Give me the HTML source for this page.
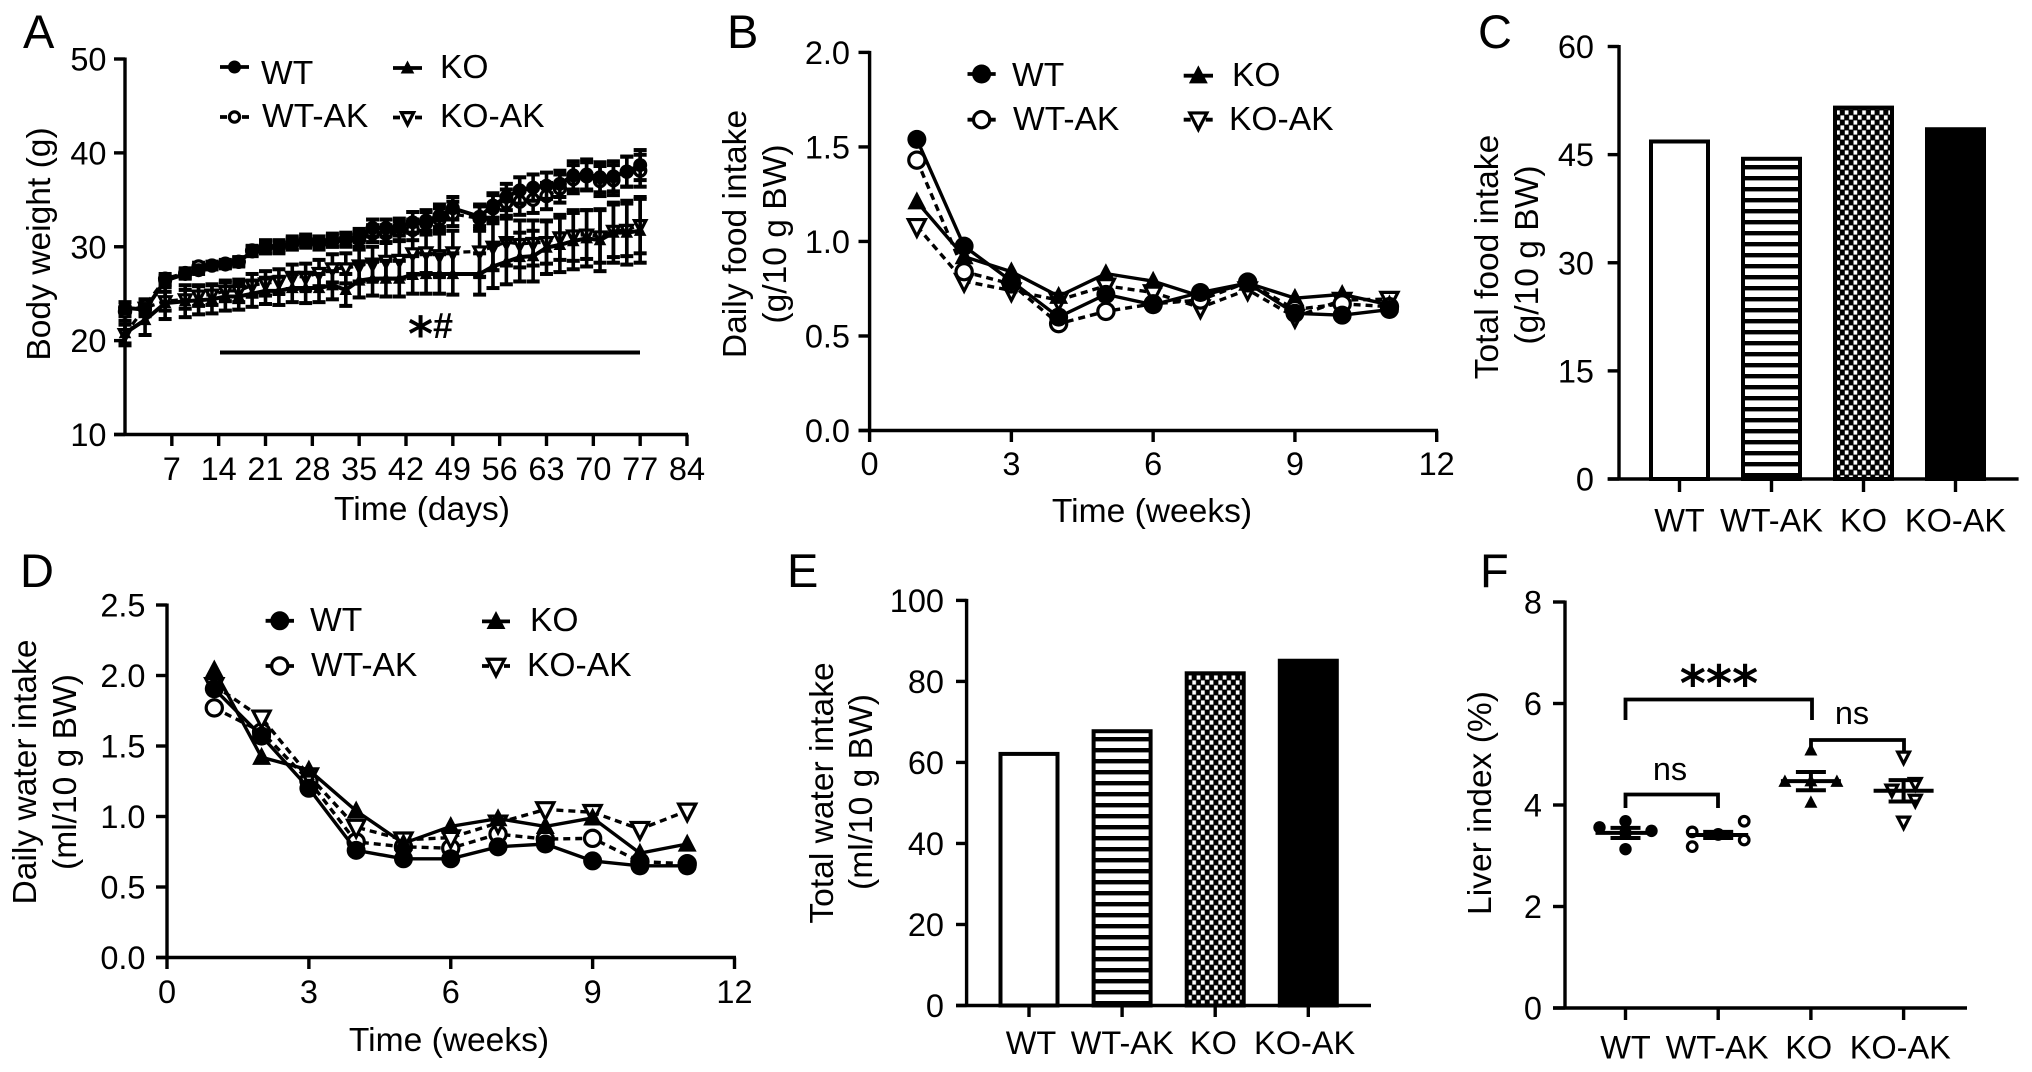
<!DOCTYPE html>
<html lang="en">
<head>
<meta charset="utf-8">
<title>Body weight, food and water intake, and liver index panels</title>
<style>
html,body{margin:0;padding:0;background:#fff;}
svg{display:block;}
text{font-family:"Liberation Sans",Arial,sans-serif;fill:#000;}
.t{font-size:32.5px;}
.h{font-size:33.6px;}
.panel{font-size:47px;}
.star{font-family:"DejaVu Sans",sans-serif;font-weight:bold;}
</style>
</head>
<body>
<svg id="fig" xmlns="http://www.w3.org/2000/svg" width="2032" height="1072" viewBox="0 0 2032 1072">
  <defs>
    <pattern id="stripes" patternUnits="userSpaceOnUse" width="11" height="11">
      <rect width="11" height="11" fill="#fff"/>
      <rect width="11" height="4.4" fill="#000"/>
    </pattern>
    <pattern id="checker" patternUnits="userSpaceOnUse" width="8.7" height="10">
      <rect width="8.7" height="10" fill="#000"/>
      <rect x="0.4" y="0.4" width="3.7" height="4.2" fill="#fff"/>
      <rect x="4.75" y="5.4" width="3.7" height="4.2" fill="#fff"/>
    </pattern>
  </defs>
  <rect width="2032" height="1072" fill="#fff"/>

  <text class="panel" x="23" y="48">A</text>
  <text class="panel" x="727" y="48">B</text>
  <text class="panel" x="1478" y="48">C</text>
  <text class="panel" x="20" y="587">D</text>
  <text class="panel" x="787" y="587">E</text>
  <text class="panel" x="1480" y="587">F</text>

  <text class="h" transform="translate(50 244) rotate(-90)" text-anchor="middle">Body weight (g)</text>
  <text class="h" x="422" y="520" text-anchor="middle">Time (days)</text>
  <text class="h" x="261" y="84">WT</text>
  <text class="h" x="262" y="127">WT-AK</text>
  <text class="h" x="440" y="78">KO</text>
  <text class="h" x="440" y="127">KO-AK</text>
  <rect x="220" y="350.5" width="420" height="4" fill="#000"/>
  <text class="star" x="408" y="351" font-size="48">*</text>
  <text x="433" y="338" font-size="36" font-weight="bold">#</text>

  <text class="h" transform="translate(746 234) rotate(-90)" text-anchor="middle">Daily food intake</text>
  <text class="h" transform="translate(786 234) rotate(-90)" text-anchor="middle">(g/10 g BW)</text>
  <text class="h" x="1152" y="522" text-anchor="middle">Time (weeks)</text>
  <text class="h" x="1012" y="86">WT</text>
  <text class="h" x="1013" y="130">WT-AK</text>
  <text class="h" x="1232" y="86">KO</text>
  <text class="h" x="1229" y="130">KO-AK</text>

  <text class="h" transform="translate(1498 257) rotate(-90)" text-anchor="middle">Total food intake</text>
  <text class="h" transform="translate(1538 255) rotate(-90)" text-anchor="middle">(g/10 g BW)</text>

  <text class="h" transform="translate(36 772) rotate(-90)" text-anchor="middle">Daily water intake</text>
  <text class="h" transform="translate(76 772) rotate(-90)" text-anchor="middle">(ml/10 g BW)</text>
  <text class="h" x="449" y="1051" text-anchor="middle">Time (weeks)</text>
  <text class="h" x="310" y="631">WT</text>
  <text class="h" x="311" y="676">WT-AK</text>
  <text class="h" x="530" y="631">KO</text>
  <text class="h" x="527" y="676">KO-AK</text>

  <text class="h" transform="translate(833 793) rotate(-90)" text-anchor="middle">Total water intake</text>
  <text class="h" transform="translate(872 792) rotate(-90)" text-anchor="middle">(ml/10 g BW)</text>

  <text class="h" transform="translate(1491 803) rotate(-90)" text-anchor="middle">Liver index (%)</text>
  <path d="M1625.5 720V699.5H1812V720" fill="none" stroke="#000" stroke-width="3.8"/>
  <path d="M1625.5 808V794.5H1718V808" fill="none" stroke="#000" stroke-width="3.8"/>
  <path d="M1811 750V740H1904V754" fill="none" stroke="#000" stroke-width="3.8"/>
  <text class="star" x="1719" y="701" font-size="50" text-anchor="middle">***</text>
  <text class="t" x="1852" y="724" text-anchor="middle">ns</text>
  <text class="t" x="1670" y="780" text-anchor="middle">ns</text>
</svg>

<script>
/* ---------- Panel A data: body weight ---------- */
const aDays = [0,3,6,9,11,13,15,17,19,21,23,25,27,29,31,33,35,37,39,41,43,45,47,49,53,55,57,59,61,63,65,67,69,71,73,75,77];
const aWT = [23.5,23.3,26.4,27.1,27.5,28,28.1,28.4,29.5,30,30,30.4,30.5,30.5,30.7,30.7,31.2,32,32,32.1,32.6,32.8,33.3,34.1,33.2,34.4,35.3,36,36.3,36.5,36.7,37.6,37.7,37.4,37.5,38,38.7];
const aWTErr = [0.6,0.6,0.5,0.5,0.4,0.4,0.4,0.5,0.5,0.7,0.7,0.7,0.6,0.6,0.7,0.7,0.7,0.9,0.9,0.9,1.1,1.1,1.2,1.2,1.3,1.3,1.4,1.4,1.4,1.4,1.4,1.5,1.6,1.6,1.6,1.6,1.6];
const aWTAK = [23.1,23.7,26.6,27.2,27.9,28,28.2,28.4,29.6,29.9,30,30.3,30.7,30.3,30.6,30.8,30.8,31.4,31.4,31.7,31.8,32.5,32.9,33.5,33,34.1,34.7,34.8,35,35.4,36.2,37.2,37.5,37,37.1,38,38.1];
const aWTAKErr = [0.5,0.6,0.5,0.5,0.4,0.4,0.4,0.4,0.5,0.6,0.6,0.6,0.6,0.6,0.6,0.7,0.8,0.9,0.9,1,1.1,1.2,1.2,1.3,1.3,1.4,1.4,1.4,1.4,1.4,1.5,1.5,1.5,1.6,1.6,1.6,1.7];
const aKO = [20.8,22.2,24,24.2,24.3,24.4,24.7,24.7,25,25.3,25.3,25.6,25.6,25.6,25.9,25.4,26.4,26.6,26.6,26.6,27,27.1,27.1,27.1,27.1,27.9,28.4,28.9,29,29.9,30.2,30.6,30.9,30.7,31.5,31.5,31.7];
const aKOErr = [1.3,1.6,1.7,1.7,1.5,1.5,1.5,1.4,1.4,1.4,1.5,1.5,1.6,1.5,1.5,1.7,1.8,1.8,1.9,1.9,2,2.1,2.1,2.2,2.2,2.3,2.4,2.6,2.7,2.8,2.9,3,3,3.3,3.2,3.4,3.4];
const aKOAK = [20.7,23.5,24.2,24.4,24.8,24.9,25.3,25.3,25.9,26.1,26.3,26.8,26.8,27.2,27.7,27.7,28,28.2,28.5,28.6,29.3,29.4,29.1,29.4,29.5,30,30.5,30.3,30.4,30.5,31,31.2,31.3,31.1,31.7,31.8,32.3];
const aKOAKErr = [1,0.9,1,1,1.1,1.1,1.1,1.2,1.2,1.3,1.3,1.3,1.4,1.4,1.5,1.6,1.7,1.8,1.9,2,2.2,2.2,2.3,2.3,2.7,2.5,2.5,2.5,2.4,2.3,2.4,2.7,2.6,2.8,2.8,2.8,3];
const aXTicks = [7,14,21,28,35,42,49,56,63,70,77,84];
const aYTicks = [10,20,30,40,50];

/* ---------- Panel B data: daily food intake ---------- */
const weeks = [1,2,3,4,5,6,7,8,9,10,11];
const bWT = [1.54,0.975,0.79,0.6,0.72,0.665,0.73,0.78,0.62,0.61,0.64];
const bWTAK = [1.43,0.84,0.775,0.565,0.63,0.67,0.69,0.785,0.64,0.67,0.655];
const bKO = [1.21,0.92,0.84,0.71,0.83,0.79,0.71,0.78,0.7,0.72,0.665];
const bKOAK = [1.08,0.79,0.74,0.69,0.765,0.73,0.65,0.745,0.6,0.69,0.695];
const bXTicks = [0,3,6,9,12];
const bYTicks = ["0.0","0.5","1.0","1.5","2.0"];

/* ---------- Panel C data: total food intake ---------- */
const groupNames = ["WT","WT-AK","KO","KO-AK"];
const cTotals = [47.1,44.7,51.8,48.8];
const cYTicks = [0,15,30,45,60];

/* ---------- Panel D data: daily water intake ---------- */
const dWT = [1.905,1.57,1.2,0.76,0.7,0.7,0.785,0.805,0.685,0.65,0.65];
const dWTAK = [1.77,1.6,1.255,0.82,0.785,0.775,0.875,0.84,0.845,0.68,0.665];
const dKO = [2.04,1.42,1.33,1.04,0.81,0.93,0.985,0.93,0.99,0.74,0.805];
const dKOAK = [1.93,1.7,1.29,0.925,0.835,0.85,0.955,1.05,1.03,0.91,1.04];
const dXTicks = [0,3,6,9,12];
const dYTicks = ["0.0","0.5","1.0","1.5","2.0","2.5"];

/* ---------- Panel E data: total water intake ---------- */
const eTotals = [62.6,68.2,82.5,85.6];
const eYTicks = [0,20,40,60,80,100];

/* ---------- Panel F data: liver index ---------- */
const fWT = [3.56,3.68,3.49,3.13,3.45];
const fWTSlot = [-1,0,1,0,0];
const fWTAK = [3.47,3.68,3.31,3.18,3.42];
const fWTAKSlot = [-1,1,1,-1,0];
const fKO = [5.08,4.46,4.46,4.05,4.47];
const fKOSlot = [0,-1,1,0,0];
const fKOAK = [4.95,4.3,4.43,4.1,3.67];
const fKOAKSlot = [0,-0.45,0.45,0.45,0];
const fMeans = [3.45,3.41,4.47,4.28];
const fSem = [0.1,0.06,0.18,0.21];
const fYTicks = [0,2,4,6,8];

const NS = "http://www.w3.org/2000/svg";
const fig = document.getElementById("fig");

function add(parent, tag, attrs, name) {
  const el = document.createElementNS(NS, tag);
  for (const k in attrs) el.setAttribute(k, attrs[k]);
  
  
  parent.appendChild(el);
  return el;
}
function scale(d0, d1, r0, r1) {
  return v => r0 + (v - d0) * (r1 - r0) / (d1 - d0);
}
function group(name) {
  return add(fig, "g", {}, name);
}
function line(g, x1, y1, x2, y2, w, name) {
  return add(g, "line", {x1, y1, x2, y2, stroke: "#000", "stroke-width": w}, name);
}
function label(g, x, y, str, anchor, name) {
  const t = add(g, "text", {class: "t", x, y, "text-anchor": anchor}, name);
  t.textContent = str;
  return t;
}
function marker(g, kind, x, y, r, name) {
  if (kind === "circle" || kind === "ring") {
    return add(g, "circle", {cx: x, cy: y, r: kind === "ring" ? r - 1.4 : r,
      fill: kind === "ring" ? "#fff" : "#000", stroke: "#000", "stroke-width": kind === "ring" ? 3.2 : 0}, name);
  }
  if (kind === "up") {
    const p = [x, y - r * 1.15, x - r * 1.05, y + r * 0.85, x + r * 1.05, y + r * 0.85].join(" ");
    return add(g, "polygon", {points: p, fill: "#000"}, name);
  }
  const p = [x, y + r * 1.1, x - r * 0.95, y - r * 0.75, x + r * 0.95, y - r * 0.75].join(" ");
  return add(g, "polygon", {points: p, fill: "#fff", stroke: "#000", "stroke-width": 3.2}, name);
}
function yAxis(g, axisX, tickX, labelX, yFn, ticks, top, bottom, prefix) {
  line(g, axisX, top - 1.5, axisX, bottom + 1.5, 3.4, prefix + "-y-axis-line");
  ticks.forEach(v => {
    const y = yFn(Number(v));
    line(g, tickX, y, axisX, y, 3.4, prefix + "-y-tick");
    label(g, labelX, y + 11.5, String(v), "end", prefix + "-y-tick-label");
  });
}
function xAxisLine(g, left, right, y, prefix) {
  line(g, left, y, right, y, 3.4, prefix + "-x-axis-line");
}
function xTicks(g, xFn, ticks, y0, tickEnd, base, prefix) {
  ticks.forEach(v => {
    line(g, xFn(v), y0, xFn(v), tickEnd, 3.4, prefix + "-x-tick");
    label(g, xFn(v), base, String(v), "middle", prefix + "-x-tick-label");
  });
}
function series(g, xs, ys, errs, xFn, yFn, kind, dashed, r, name, capW, lineW) {
  if (errs) {
    xs.forEach((d, i) => {
      const x = xFn(d), hi = yFn(ys[i] + errs[i]), lo = yFn(ys[i] - errs[i]);
      line(g, x, hi, x, lo, 3.6, name + "-error-bar");
      line(g, x - capW, hi, x + capW, hi, 4, name + "-error-cap");
      line(g, x - capW, lo, x + capW, lo, 4, name + "-error-cap");
    });
  }
  const pts = xs.map((d, i) => xFn(d) + "," + yFn(ys[i])).join(" ");
  const attrs = {points: pts, fill: "none", stroke: "#000", "stroke-width": lineW};
  if (dashed) attrs["stroke-dasharray"] = "7 5";
  add(g, "polyline", attrs, name + "-line");
  xs.forEach((d, i) => marker(g, kind, xFn(d), yFn(ys[i]), r, name + "-point"));
}
function legendKey(g, x1, x2, y, kind, dashed, r, name) {
  const attrs = {x1, y1: y, x2, y2: y, stroke: "#000", "stroke-width": 3.8};
  if (dashed) attrs["stroke-dasharray"] = "7 4";
  add(g, "line", attrs, name + "-line");
  marker(g, kind, (x1 + x2) / 2, y, r, name + "-marker");
}
function bars(g, xFn, yFn, values, baseY, prefix) {
  const fills = ["#fff", "url(#stripes)", "url(#checker)", "#000"];
  const w = 61;
  values.forEach((v, i) => {
    const top = yFn(v), x = xFn(i) - w / 2;
    add(g, "rect", {x: x + 2, y: top + 2, width: w - 4, height: baseY - top - 2,
      fill: fills[i], stroke: "#000", "stroke-width": 4}, prefix + "-bar-" + groupNames[i].toLowerCase());
  });
}
function catAxis(g, xFn, labelFn, tickEnd, y0, base, prefix) {
  groupNames.forEach((n, i) => {
    line(g, xFn(i), y0, xFn(i), tickEnd, 3.4, prefix + "-x-tick");
    label(g, labelFn(i), base, n, "middle", prefix + "-x-tick-label");
  });
}

/* Panel A */
(function () {
  const g = group("panel-a-body-weight");
  const x = scale(0, 84, 125, 687), y = scale(10, 50, 434.5, 59);
  yAxis(g, 125, 114, 106.5, y, aYTicks, 59, 434.5, "a");
  xAxisLine(g, 114, 688, 434.5, "a");
  xTicks(g, x, aXTicks, 434.5, 446, 480, "a");
  series(g, aDays, aKOAK, aKOAKErr, x, y, "down", true, 6, "a-ko-ak", 6.5, 3.2);
  series(g, aDays, aKO, aKOErr, x, y, "up", false, 6, "a-ko", 6.5, 4);
  series(g, aDays, aWTAK, aWTAKErr, x, y, "ring", true, 7, "a-wt-ak", 6.5, 3.2);
  series(g, aDays, aWT, aWTErr, x, y, "circle", false, 7, "a-wt", 6.5, 4);
  legendKey(g, 220, 249, 67, "circle", false, 6.5, "a-legend-wt");
  legendKey(g, 220, 249, 117, "ring", true, 6.5, "a-legend-wt-ak");
  legendKey(g, 393, 422, 68, "up", false, 6.5, "a-legend-ko");
  legendKey(g, 393, 422, 117.5, "down", true, 6.5, "a-legend-ko-ak");
})();

/* Panel B */
(function () {
  const g = group("panel-b-daily-food-intake");
  const x = scale(0, 12, 869.6, 1436.7), y = scale(0, 2, 430.5, 52.4);
  yAxis(g, 869.6, 858.5, 850, y, bYTicks, 52.4, 430.5, "b");
  xAxisLine(g, 858.5, 1438, 430.5, "b");
  xTicks(g, x, bXTicks, 430.5, 442, 475, "b");
  series(g, weeks, bKOAK, null, x, y, "down", true, 9, "b-ko-ak", 0, 3.4);
  series(g, weeks, bKO, null, x, y, "up", false, 9, "b-ko", 0, 3.4);
  series(g, weeks, bWTAK, null, x, y, "ring", true, 9.5, "b-wt-ak", 0, 3.4);
  series(g, weeks, bWT, null, x, y, "circle", false, 9.5, "b-wt", 0, 3.4);
  legendKey(g, 967.5, 995.7, 74, "circle", false, 9.5, "b-legend-wt");
  legendKey(g, 967.5, 995.7, 119.7, "ring", true, 9.5, "b-legend-wt-ak");
  legendKey(g, 1183.7, 1213, 75.7, "up", false, 9, "b-legend-ko");
  legendKey(g, 1183.7, 1213, 119.7, "down", true, 9, "b-legend-ko-ak");
})();

/* Panel C */
(function () {
  const g = group("panel-c-total-food-intake");
  const x = i => 1679.5 + 92 * i, y = scale(0, 60, 479, 46.5);
  bars(g, x, y, cTotals, 479, "c");
  yAxis(g, 1619, 1607.7, 1594, y, cYTicks, 46.5, 479, "c");
  xAxisLine(g, 1607.7, 2018.6, 479, "c");
  catAxis(g, x, x, 492, 479, 531.5, "c");
})();

/* Panel D */
(function () {
  const g = group("panel-d-daily-water-intake");
  const x = scale(0, 12, 167, 734.5), y = scale(0, 2.5, 957.5, 605);
  yAxis(g, 167, 156, 145.5, y, dYTicks, 605, 957.5, "d");
  xAxisLine(g, 156, 736, 957.5, "d");
  xTicks(g, x, dXTicks, 957.5, 969, 1003, "d");
  series(g, weeks, dWTAK, null, x, y, "ring", true, 9.5, "d-wt-ak", 0, 3.4);
  series(g, weeks, dKOAK, null, x, y, "down", true, 9, "d-ko-ak", 0, 3.4);
  series(g, weeks, dKO, null, x, y, "up", false, 9, "d-ko", 0, 3.4);
  series(g, weeks, dWT, null, x, y, "circle", false, 9.5, "d-wt", 0, 3.4);
  legendKey(g, 265.6, 294, 620.8, "circle", false, 9.5, "d-legend-wt");
  legendKey(g, 265.6, 294, 666, "ring", true, 9.5, "d-legend-wt-ak");
  legendKey(g, 482, 510, 621.4, "up", false, 9, "d-legend-ko");
  legendKey(g, 482, 510, 666, "down", true, 9, "d-legend-ko-ak");
})();

/* Panel E */
(function () {
  const g = group("panel-e-total-water-intake");
  const x = i => 1029 + 93.1 * i, y = scale(0, 100, 1005.5, 600.4);
  bars(g, x, y, eTotals, 1005.5, "e");
  yAxis(g, 966.6, 956, 944, y, eYTicks, 600.4, 1005.5, "e");
  xAxisLine(g, 956, 1371, 1005.5, "e");
  catAxis(g, x, i => 1031 + 91.2 * i, 1017, 1005.5, 1054, "e");
})();

/* Panel F */
(function () {
  const g = group("panel-f-liver-index");
  const x = i => 1625.5 + 92.7 * i, y = scale(0, 8, 1008, 602);
  yAxis(g, 1565, 1553, 1542, y, fYTicks, 602, 1008, "f");
  xAxisLine(g, 1553, 1967, 1008, "f");
  catAxis(g, x, i => 1625.5 + 91.6 * i, 1020, 1008, 1058.5, "f");
  const sets = [fWT, fWTAK, fKO, fKOAK];
  const slots = [fWTSlot, fWTAKSlot, fKOSlot, fKOAKSlot];
  const kinds = ["circle", "ring", "up", "down"];
  sets.forEach((vals, c) => {
    const nm = "f-" + groupNames[c].toLowerCase();
    vals.forEach((v, i) => {
      marker(g, kinds[c], x(c) + slots[c][i] * 26, y(v), 6.2, nm + "-point");
    });
    const m = y(fMeans[c]), hi = y(fMeans[c] + fSem[c]), lo = y(fMeans[c] - fSem[c]);
    line(g, x(c) - 30, m, x(c) + 30, m, 4, nm + "-mean-line");
    line(g, x(c), hi, x(c), lo, 4, nm + "-error-bar");
    line(g, x(c) - 15, hi, x(c) + 15, hi, 4, nm + "-error-cap");
    line(g, x(c) - 15, lo, x(c) + 15, lo, 4, nm + "-error-cap");
  });
})();
</script>
</body>
</html>
